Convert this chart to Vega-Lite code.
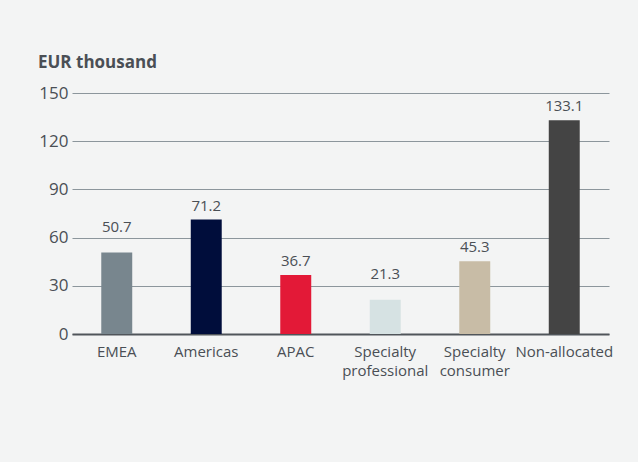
{
  "$schema": "https://vega.github.io/schema/vega-lite/v6.json",
  "width": 537,
  "height": 241,
  "autosize": "none",
  "padding": {"left": 72, "top": 93, "right": 29, "bottom": 128},
  "background": "#f3f4f4",
  "title": {
    "text": "EUR thousand",
    "anchor": "start",
    "frame": "group",
    "dx": -34,
    "offset": 12,
    "font": "Open Sans",
    "fontSize": 17,
    "fontWeight": "bold",
    "color": "#4a4f55"
  },
  "data": {
    "values": [
      {"segment": "EMEA", "value": 50.7},
      {"segment": "Americas", "value": 71.2},
      {"segment": "APAC", "value": 36.7},
      {"segment": "Specialty professional", "value": 21.3},
      {"segment": "Specialty consumer", "value": 45.3},
      {"segment": "Non-allocated", "value": 133.1}
    ]
  },
  "encoding": {
    "x": {
      "field": "segment",
      "type": "nominal",
      "sort": null,
      "scale": {"paddingInner": 0.654, "paddingOuter": 0.327},
      "axis": {
        "title": null,
        "labelAngle": 0,
        "labelExpr": "indexof(datum.label, 'Specialty') == 0 ? split(datum.label, ' ') : datum.label",
        "labelFont": "Open Sans",
        "labelFontSize": 15,
        "labelColor": "#4a4f55",
        "labelPadding": 10,
        "labelLineHeight": 19,
        "labelOverlap": false,
        "ticks": false,
        "domainColor": "#50555a",
        "domainWidth": 2
      }
    },
    "y": {
      "field": "value",
      "type": "quantitative",
      "scale": {"domain": [0, 150]},
      "axis": {
        "title": null,
        "values": [0, 30, 60, 90, 120, 150],
        "labelFont": "Open Sans",
        "labelFontSize": 17,
        "labelColor": "#4a4f55",
        "labelPadding": 4,
        "ticks": false,
        "domain": false,
        "gridColor": "#8c969c",
        "gridWidth": 1
      }
    }
  },
  "layer": [
    {
      "mark": {"type": "bar"},
      "encoding": {
        "color": {
          "field": "segment",
          "type": "nominal",
          "legend": null,
          "scale": {
            "domain": ["EMEA", "Americas", "APAC", "Specialty professional", "Specialty consumer", "Non-allocated"],
            "range": ["#78868e", "#000d3b", "#e31937", "#d6e2e3", "#c8bca6", "#444444"]
          }
        }
      }
    },
    {
      "mark": {
        "type": "text",
        "baseline": "alphabetic",
        "dy": {"expr": "floor((datum.value + 13) / 30) > floor((datum.value + 5) / 30) ? -21 : -9"},
        "font": "Open Sans",
        "fontSize": 15,
        "color": "#4a4f55"
      },
      "encoding": {
        "text": {"field": "value", "type": "quantitative", "format": ".1f"}
      }
    }
  ],
  "config": {"view": {"stroke": null}}
}
